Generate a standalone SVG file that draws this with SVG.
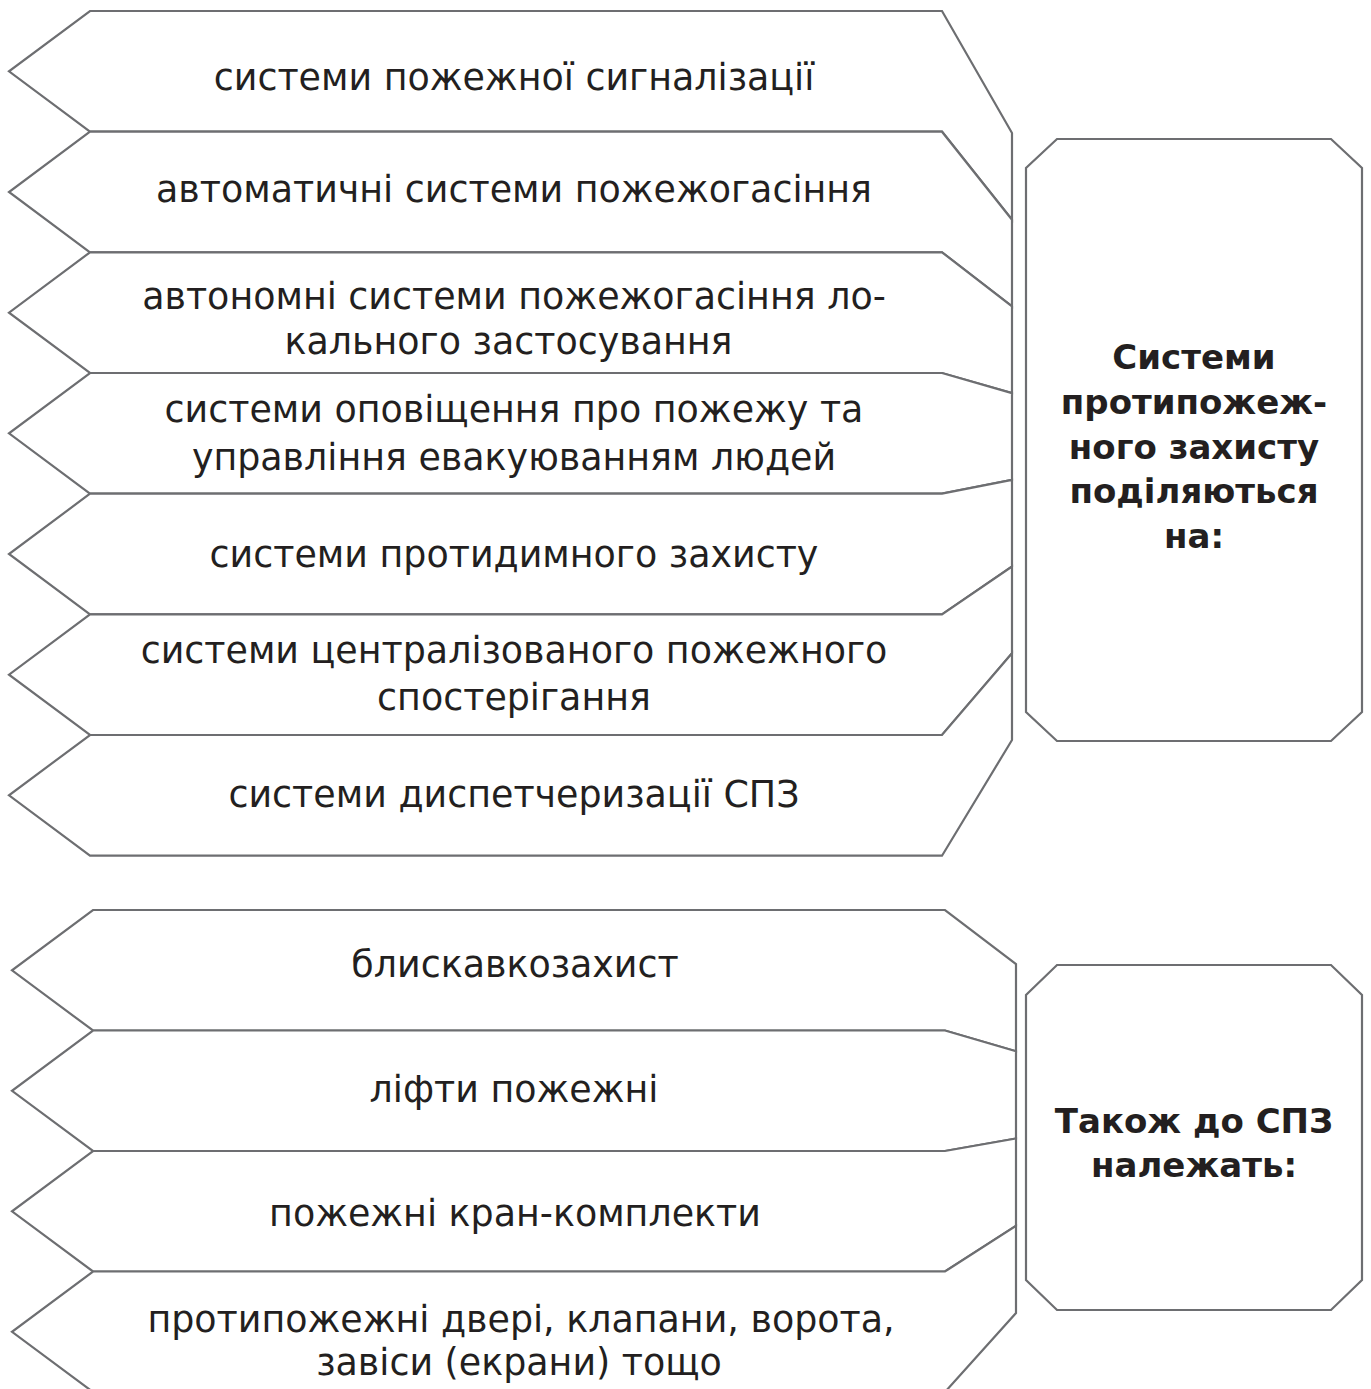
<svg xmlns="http://www.w3.org/2000/svg" width="1371" height="1389" viewBox="0 0 1371 1389">
<style>
.s{fill:#fff;stroke:#6d6e71;stroke-width:2.2;stroke-linejoin:miter}
.t{font-family:"DejaVu Sans",sans-serif;font-size:36.4px;fill:#231f20;text-anchor:middle}
.b{font-family:"DejaVu Sans",sans-serif;font-size:34px;font-weight:bold;fill:#231f20;text-anchor:middle}
</style>
<rect width="1371" height="1389" fill="#fff"/>
<g id="n1"><polygon class="s" points="90,11 942,11 1012,133 1012,219.7 942,131.7 90,131.7 9,71.3"/><text class="t" x="514" y="90">системи пожежної сигналізації</text></g>
<g id="n2"><polygon class="s" points="90,131.7 942,131.7 1012,219.7 1012,306.4 942,252.3 90,252.3 9,192"/><text class="t" x="514" y="202">автоматичні системи пожежогасіння</text></g>
<g id="n3"><polygon class="s" points="90,252.3 942,252.3 1012,306.4 1012,393.1 942,373 90,373 9,312.7"/><text class="t" x="514" y="309">автономні системи пожежогасіння ло-</text><text class="t" x="508.5" y="354">кального застосування</text></g>
<g id="n4"><polygon class="s" points="90,373 942,373 1012,393.1 1012,479.8 942,493.7 90,493.7 9,433.3"/><text class="t" x="514" y="422">системи оповіщення про пожежу та</text><text class="t" x="514" y="470">управління евакуюванням людей</text></g>
<g id="n5"><polygon class="s" points="90,493.7 942,493.7 1012,479.8 1012,566.5 942,614.3 90,614.3 9,554"/><text class="t" x="514" y="567">системи протидимного захисту</text></g>
<g id="n6"><polygon class="s" points="90,614.3 942,614.3 1012,566.5 1012,653.2 942,735 90,735 9,674.7"/><text class="t" x="514" y="663">системи централізованого пожежного</text><text class="t" x="514" y="710">спостерігання</text></g>
<g id="n7"><polygon class="s" points="90,735 942,735 1012,653.2 1012,740 942,855.7 90,855.7 9,795.3"/><text class="t" x="514" y="807">системи диспетчеризації СПЗ</text></g>
<g id="main1"><polygon class="s" points="1057,139 1331,139 1362,168 1362,712 1331,741 1057,741 1026,712 1026,168"/>
<text class="b" x="1194" y="369">Системи</text><text class="b" x="1194" y="414">протипожеж-</text><text class="b" x="1194" y="459">ного захисту</text><text class="b" x="1194" y="503">поділяються</text><text class="b" x="1194" y="548">на:</text></g>
<g id="m1"><polygon class="s" points="93,910 945,910 1016,964 1016,1051.3 945,1030.5 93,1030.5 12,970.3"/><text class="t" x="515" y="977">блискавкозахист</text></g>
<g id="m2"><polygon class="s" points="93,1030.5 945,1030.5 1016,1051.3 1016,1138.5 945,1151 93,1151 12,1090.8"/><text class="t" x="514" y="1102">ліфти пожежні</text></g>
<g id="m3"><polygon class="s" points="93,1151 945,1151 1016,1138.5 1016,1225.8 945,1271.5 93,1271.5 12,1211.3"/><text class="t" x="515" y="1226">пожежні кран-комплекти</text></g>
<g id="m4"><polygon class="s" points="93,1271.5 945,1271.5 1016,1225.8 1016,1313 945,1392 93,1392 12,1331.8"/><text class="t" x="521" y="1332">протипожежні двері, клапани, ворота,</text><text class="t" x="519" y="1375">завіси (екрани) тощо</text></g>
<g id="main2"><polygon class="s" points="1057,965 1331,965 1362,995 1362,1280 1331,1310 1057,1310 1026,1280 1026,995"/>
<text class="b" x="1194" y="1133">Також до СПЗ</text><text class="b" x="1194" y="1177">належать:</text></g>
</svg>
